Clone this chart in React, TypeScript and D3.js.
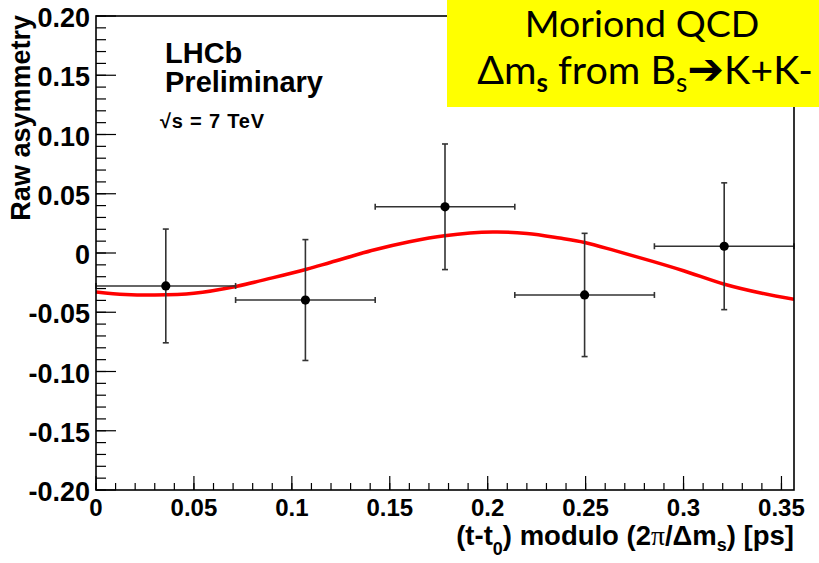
import React from "react";
import * as d3 from "d3";

// ---- data ----
const xMax = 0.3564;
const nBins = 5;
const pointY = [-0.0278, -0.0397, 0.039, -0.0354, 0.0057];
const errY = [0.048, 0.051, 0.053, 0.052, 0.0535];

const curveX = [0, 0.015, 0.03, 0.05, 0.072, 0.09, 0.1075, 0.12, 0.1423, 0.16, 0.178, 0.2026, 0.22, 0.2367, 0.2495, 0.265, 0.2842, 0.3, 0.3209, 0.34, 0.3564];
const curveY = [-0.0328, -0.035, -0.0355, -0.034, -0.028, -0.021, -0.0137, -0.0078, 0.0027, 0.0095, 0.0146, 0.0177, 0.0165, 0.0126, 0.0089, 0.002, -0.0071, -0.015, -0.0264, -0.034, -0.039];

const xTickValues = [0, 0.05, 0.1, 0.15, 0.2, 0.25, 0.3, 0.35];
const xTickLabels = ["0", "0.05", "0.1", "0.15", "0.2", "0.25", "0.3", "0.35"];
const yTickValues = [-0.2, -0.15, -0.1, -0.05, 0, 0.05, 0.1, 0.15, 0.2];
const yTickLabels = ["-0.20", "-0.15", "-0.10", "-0.05", "0", "0.05", "0.10", "0.15", "0.20"];

const W = 819;
const H = 563;
const L = 96, R = 794, T = 16, B = 490;

const FONT = "'Liberation Sans', Arial, Helvetica, sans-serif";
const BOXFONT = "Lato, 'Open Sans', sans-serif";

export default function App() {
  const x = d3.scaleLinear().domain([0, xMax]).range([L, R]);
  const y = d3.scaleLinear().domain([-0.2, 0.2]).range([B, T]);
  const binW = xMax / nBins;
  const pts = pointY.map((v, i) => ({ cx: binW * (i + 0.5), v, e: errY[i] }));

  const line = d3
    .line<number>()
    .x((_, i) => x(curveX[i]))
    .y((d) => y(d))
    .curve(d3.curveCatmullRom.alpha(0.5));

  const xMinor = d3.range(0, 0.3501, 0.01);
  const yMinor = d3.range(-0.2, 0.2001, 0.01);
  const cap = 3;

  return (
    <svg width={W} height={H} style={{ position: "absolute", left: 0, top: 0, background: "#fff" }}>
      <defs>
        <clipPath id="plot">
          <rect x={L} y={T} width={R - L} height={B - T} />
        </clipPath>
      </defs>
      <rect x={0} y={0} width={W} height={H} fill="#fff" />

      {/* ticks */}
      {yMinor.map((v, i) => (
        <line key={"ym" + i} x1={L} x2={L + 10} y1={y(v)} y2={y(v)} stroke="#000" strokeWidth={1.2} />
      ))}
      {yTickValues.map((v, i) => (
        <line key={"yM" + i} x1={L} x2={L + 20} y1={y(v)} y2={y(v)} stroke="#000" strokeWidth={1.2} />
      ))}
      {xMinor.map((v, i) => (
        <line key={"xm" + i} x1={x(v)} x2={x(v)} y1={B} y2={B - 7} stroke="#000" strokeWidth={1.2} />
      ))}
      {xTickValues.map((v, i) => (
        <line key={"xM" + i} x1={x(v)} x2={x(v)} y1={B} y2={B - 14} stroke="#000" strokeWidth={1.2} />
      ))}

      {/* tick labels */}
      {yTickValues.map((v, i) => (
        <text key={"yl" + i} x={90} y={y(v) + 11} textAnchor="end" fontFamily={FONT} fontWeight="bold" fontSize={27}>
          {yTickLabels[i]}
        </text>
      ))}
      {xTickValues.map((v, i) => (
        <text key={"xl" + i} x={x(v)} y={516} textAnchor="middle" fontFamily={FONT} fontWeight="bold" fontSize={24}>
          {xTickLabels[i]}
        </text>
      ))}

      {/* axis titles */}
      <text
        transform={`translate(30,${T - 1}) rotate(-90)`}
        textAnchor="end"
        fontFamily={FONT}
        fontWeight="bold"
        fontSize={27}
      >
        Raw asymmetry
      </text>
      <text x={R} y={545} textAnchor="end" fontFamily={FONT} fontWeight="bold" fontSize={27.5}>
        (t-t
        <tspan fontSize={18} dy={10}>0</tspan>
        <tspan dy={-10}>) modulo (2</tspan>
        <tspan fontFamily="'Liberation Serif', 'Times New Roman', serif" fontWeight="normal">π</tspan>
        <tspan>/Δm</tspan>
        <tspan fontSize={18} dy={6}>s</tspan>
        <tspan dy={-6}>) [ps]</tspan>
      </text>

      {/* curve */}
      <path d={line(curveY) || ""} fill="none" stroke="#ff0000" strokeWidth={3.5} clipPath="url(#plot)" />

      {/* error bars and points */}
      {pts.map((p, i) => {
        const px = x(p.cx);
        const py = y(p.v);
        const x0 = x(p.cx - binW / 2);
        const x1 = x(p.cx + binW / 2);
        const yt = y(p.v + p.e);
        const yb = y(p.v - p.e);
        return (
          <g key={"p" + i} stroke="#333" strokeWidth={1.6}>
            <line x1={x0} x2={x1} y1={py} y2={py} />
            <line x1={px} x2={px} y1={yt} y2={yb} />
            <line x1={x0} x2={x0} y1={py - cap} y2={py + cap} />
            <line x1={x1} x2={x1} y1={py - cap} y2={py + cap} />
            <line x1={px - cap} x2={px + cap} y1={yt} y2={yt} />
            <line x1={px - cap} x2={px + cap} y1={yb} y2={yb} />
            <circle cx={px} cy={py} r={4.6} fill="#000" stroke="none" />
          </g>
        );
      })}

      {/* frame */}
      <rect x={L} y={T} width={R - L} height={B - T} fill="none" stroke="#000" strokeWidth={1.6} />

      {/* labels in plot */}
      <text x={165} y={63} fontFamily={FONT} fontWeight="bold" fontSize={29}>LHCb</text>
      <text x={165} y={92} fontFamily={FONT} fontWeight="bold" fontSize={29}>Preliminary</text>
      <text x={160} y={128} fontFamily={FONT} fontWeight="bold" fontSize={20} letterSpacing={0.8}>
        √s = 7 TeV
      </text>

      {/* yellow box */}
      <rect x={447} y={0} width={W - 447} height={107} fill="#ffff00" />
      <text x={642} y={37} textAnchor="middle" fontFamily={BOXFONT} fontSize={37.5}>
        Moriond QCD
      </text>
      <text x={645} y={84} textAnchor="middle" fontFamily={BOXFONT} fontSize={39.5}>
        Δm
        <tspan fontSize={26} fontWeight="bold" dy={8}>s</tspan>
        <tspan dy={-8}> from B</tspan>
        <tspan fontSize={26} dy={8}>s</tspan>
        <tspan dy={-8} fontFamily="'DejaVu Sans', sans-serif" fontWeight="bold" fontSize={44}>➔</tspan>
        <tspan>K+K-</tspan>
      </text>
    </svg>
  );
}
